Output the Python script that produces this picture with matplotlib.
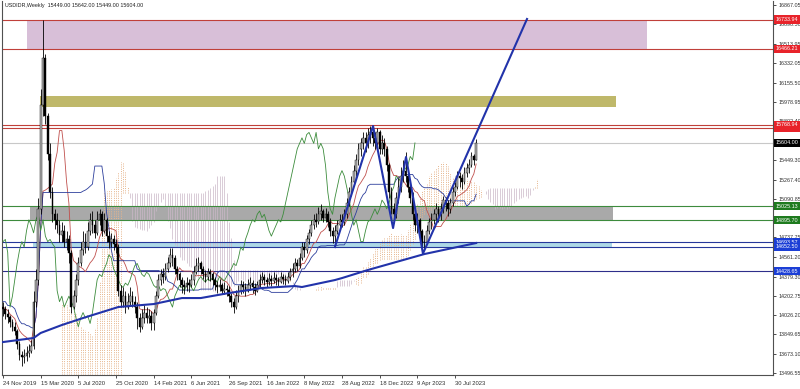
"""USDIDR weekly chart (MT4 style): candles, Ichimoku, MA, levels and zones."""
import numpy as np
import pandas as pd
import matplotlib
matplotlib.use("Agg")
import matplotlib.pyplot as plt
from matplotlib.transforms import blended_transform_factory

plt.rcParams["font.family"] = ["Liberation Sans", "DejaVu Sans"]

# ---- data -----------------------------------------------------------------
# 26 weeks before the first visible bar: only used to seed the Ichimoku buffers
pre_close = [14260, 14250, 14320, 14150, 14140, 14130, 14070, 13950, 14000, 14180,
             14250, 14250, 14240, 14200, 14080, 14050, 14100, 14200, 14150, 14160,
             14140, 14030, 14030, 14020, 14080, 14100]
pre_high = [14400, 14320, 14400, 14330, 14200, 14180, 14150, 14080, 14050, 14220,
            14330, 14300, 14290, 14260, 14210, 14100, 14140, 14230, 14230, 14200,
            14190, 14150, 14070, 14080, 14110, 14150]
pre_low = [14200, 14180, 14220, 14120, 14090, 14080, 14000, 13900, 13920, 13980,
           14150, 14190, 14180, 14150, 14050, 13980, 14030, 14080, 14120, 14100,
           14100, 14000, 13980, 13970, 14000, 14040]

# visible weekly bars, bar 0 = 24 Nov 2019
close = [14080, 14040, 14010, 13960, 13920, 13880, 13760, 13660, 13640, 13650,
         13680, 13700, 13740, 14150, 14350, 15000, 15950, 16380, 15850, 15500,
         15150, 14950, 14900, 14850, 14760, 14800, 14700, 14720, 14600, 14100,
         14200, 14350, 14500, 14620, 14700, 14650, 14800, 14900, 14850, 14780,
         14900, 14950, 14800, 14900, 14750, 14700, 14720, 14680, 14650, 14250,
         14150, 14200, 14100, 14150, 14200, 14150, 14100, 14000, 13920, 14000,
         14050, 14000, 14020, 13950, 14050, 14200, 14350, 14400, 14380, 14450,
         14500, 14580, 14550, 14450, 14400, 14350, 14300, 14280, 14320, 14300,
         14350, 14420, 14480, 14500, 14450, 14400, 14380, 14420, 14400, 14350,
         14300, 14280, 14300, 14250, 14270, 14260, 14200, 14150, 14100, 14200,
         14250, 14300, 14280, 14250, 14300, 14320, 14280, 14250, 14300, 14350,
         14380, 14350, 14330, 14360, 14340, 14370, 14350, 14330, 14380, 14360,
         14340, 14380, 14420, 14450, 14500, 14480, 14550, 14650, 14620, 14720,
         14780, 14850, 14900, 14880, 14950, 14980, 14920, 14950, 14880, 14800,
         14750, 14800, 14850, 14900, 14880, 14950, 15050, 15150, 15250, 15350,
         15450, 15550, 15600, 15650, 15600, 15680, 15700, 15650, 15600, 15700,
         15550, 15600, 15550, 15400, 15150, 15000, 14950, 15100, 15200, 15300,
         15350, 15300, 15200, 15100, 14950, 14850, 14900, 14800, 14700, 14700,
         14800, 14880, 14900, 14950, 15000, 14950, 15000, 15080, 15050, 15000,
         15050, 15150, 15200, 15300, 15280, 15250, 15330, 15370, 15400, 15480,
         15449, 15604]
high = [14150, 14110, 14080, 14030, 13990, 13960, 13900, 13790, 13700, 13720,
        13740, 13760, 13800, 14250, 14450, 15100, 16100, 16734, 16420, 15880,
        15600, 15200, 15000, 14960, 14900, 14880, 14850, 14800, 14760, 14620,
        14260, 14400, 14560, 14700, 14800, 14780, 14880, 14960, 14980, 14900,
        14980, 15000, 14980, 14960, 14920, 14800, 14780, 14760, 14720, 14680,
        14300, 14280, 14250, 14230, 14280, 14250, 14200, 14150, 14050, 14080,
        14120, 14100, 14080, 14060, 14080, 14250, 14400, 14450, 14460, 14500,
        14560, 14640, 14640, 14580, 14480, 14420, 14380, 14350, 14380, 14360,
        14400, 14480, 14550, 14560, 14520, 14480, 14440, 14460, 14450, 14420,
        14380, 14340, 14360, 14320, 14330, 14300, 14290, 14230, 14180, 14260,
        14300, 14350, 14340, 14320, 14360, 14380, 14350, 14320, 14340, 14400,
        14420, 14400, 14380, 14410, 14390, 14420, 14400, 14380, 14420, 14400,
        14390, 14420, 14460, 14500, 14550, 14540, 14600, 14700, 14700, 14760,
        14820, 14900, 14950, 14960, 15020, 15040, 15000, 15010, 14980, 14920,
        14830, 14850, 14900, 14950, 14950, 15000, 15100, 15200, 15300, 15400,
        15500, 15600, 15650, 15700, 15700, 15740, 15760, 15760, 15700, 15740,
        15720, 15680, 15650, 15580, 15420, 15200, 15050, 15150, 15280, 15380,
        15450, 15520, 15350, 15250, 15150, 15000, 14960, 14920, 14820, 14760,
        14850, 14920, 14960, 15000, 15050, 15030, 15050, 15120, 15110, 15080,
        15100, 15200, 15250, 15350, 15340, 15320, 15380, 15420, 15460, 15520,
        15500, 15642]
low = [14020, 13990, 13950, 13920, 13880, 13840, 13720, 13620, 13565, 13590,
       13610, 13640, 13680, 13720, 14100, 14300, 14950, 15850, 15780, 15450,
       15100, 14880, 14820, 14780, 14700, 14700, 14650, 14620, 14500, 14050,
       14080, 14150, 14300, 14480, 14580, 14600, 14620, 14760, 14780, 14730,
       14760, 14850, 14750, 14780, 14700, 14640, 14650, 14620, 14600, 14200,
       14100, 14100, 14050, 14080, 14120, 14100, 14050, 13900, 13872, 13900,
       13950, 13950, 13950, 13890, 13890, 14030, 14180, 14300, 14320, 14350,
       14420, 14470, 14480, 14400, 14350, 14280, 14230, 14220, 14250, 14240,
       14280, 14300, 14400, 14430, 14400, 14360, 14330, 14350, 14340, 14300,
       14260, 14230, 14250, 14220, 14220, 14200, 14150, 14100, 14050, 14080,
       14150, 14220, 14230, 14200, 14240, 14260, 14230, 14210, 14240, 14280,
       14320, 14300, 14280, 14300, 14290, 14320, 14300, 14290, 14320, 14310,
       14300, 14320, 14350, 14380, 14420, 14430, 14460, 14530, 14560, 14600,
       14680, 14750, 14820, 14830, 14860, 14900, 14880, 14880, 14830, 14750,
       14690, 14690, 14770, 14820, 14830, 14850, 14920, 15030, 15120, 15220,
       15300, 15400, 15480, 15550, 15520, 15560, 15600, 15580, 15550, 15580,
       15500, 15500, 15480, 15350, 15100, 14950, 14870, 14920, 15050, 15150,
       15250, 15250, 15150, 15050, 14900, 14800, 14780, 14700, 14650, 14627,
       14680, 14770, 14820, 14860, 14900, 14880, 14900, 14960, 14980, 14930,
       14960, 15030, 15120, 15180, 15200, 15180, 15230, 15290, 15330, 15380,
       15400, 15449]

# thick blue moving average, read at a few bars
ma_bars = [0, 13, 16, 25, 34, 49, 64, 76, 84, 96, 110, 124, 127, 141, 144, 155, 179, 201]
ma_vals = [13780, 13817, 13863, 13936, 14000, 14101, 14128, 14183, 14183, 14229,
           14275, 14293, 14284, 14348, 14366, 14440, 14586, 14687]

# hand-drawn zigzag / trend line
zz_bars = [141.0, 157.2, 165.7, 171.2, 178.4, 222.6]
zz_vals = [14650, 15759, 14824, 15475, 14590, 16739]

# horizontal levels and their price-scale labels
level_prices = [16733.94, 16466.21, 15768.94, 15741.62, 15604.00,
                15025.13, 14895.70, 14693.57, 14652.50, 14428.65]
level_colors = ["#c0403a", "#c0403a", "#c0403a", "#c0403a", "#c8c8c8",
                "#3d8b3d", "#3d8b3d", "#26379b", "#26379b", "#2e2e8a"]
label_colors = ["#e8232a", "#e8232a", "#e8232a", "#e8232a", "#000000",
                "#1e7b1e", "#1e7b1e", "#1c3fd6", "#1c3fd6", "#1c3fd6"]

# zones: bar from, bar to, price low, price high, colour
zone_x0 = [10.2, 15.7, 11.5, 12.7]
zone_x1 = [273.6, 260.4, 259.0, 258.7]
zone_lo = [16466.21, 15932.8, 14895.70, 14652.50]
zone_hi = [16733.94, 16033.6, 15025.13, 14693.57]
zone_col = ["#d8bfd8", "#bfb86a", "#a9a9a9", "#add8e6"]

price_ticks = [16867.05, 16690.50, 16513.95, 16332.05, 16155.50, 15978.95, 15802.40,
               15625.85, 15449.30, 15267.40, 15090.85, 14914.30, 14737.75, 14561.20,
               14379.30, 14202.75, 14026.20, 13849.65, 13673.10, 13496.55]
date_bars = [0, 16, 32, 48, 64, 80, 96, 112, 128, 144, 160, 176, 192]
date_labels = ["24 Nov 2019", "15 Mar 2020", "5 Jul 2020", "25 Oct 2020", "14 Feb 2021",
               "6 Jun 2021", "26 Sep 2021", "16 Jan 2022", "8 May 2022", "28 Aug 2022",
               "18 Dec 2022", "9 Apr 2023", "30 Jul 2023"]

# ---- Ichimoku (9, 26, 52) --------------------------------------------------
npre = len(pre_close)
allc = pd.Series(pre_close + close, dtype=float)
allh = pd.Series(pre_high + high, dtype=float)
alll = pd.Series(pre_low + low, dtype=float)
tenkan = (allh.rolling(9).max() + alll.rolling(9).min()) / 2
kijun = (allh.rolling(26).max() + alll.rolling(26).min()) / 2
span_a = (tenkan + kijun) / 2
span_b = (allh.rolling(52).max() + alll.rolling(52).min()) / 2
pos_all = np.arange(len(allc)) - npre          # chart bar index of every buffer row

n = len(close)
idx = np.arange(n)
opens = np.array(pre_close[-1:] + close[:-1], dtype=float)
c = np.array(close, dtype=float)
h = np.array(high, dtype=float)
l = np.array(low, dtype=float)

# ---- figure -----------------------------------------------------------------
fig = plt.figure(figsize=(8, 3.89), dpi=100)
ax = fig.add_axes([2 / 800, 14 / 389, 771 / 800, 374 / 389])
ymin, ymax = 13478.2, 16903.7
ax.set_ylim(ymin, ymax)
ax.set_xlim(-0.425, 327.1)

# zones
for x0, x1, lo, hi, col in zip(zone_x0, zone_x1, zone_lo, zone_hi, zone_col):
    ax.fill_between([x0, x1], lo, hi, color=col, lw=0, zorder=1)

# cloud, shifted 26 bars forward (MT4 histogram look)
for p, a, b in zip(pos_all + 26, span_a, span_b):
    if np.isnan(a) or p < 0:
        continue
    if np.isnan(b):
        ax.vlines(p, ymin, a, color="#e6b58c", lw=0.7, ls=(0, (1, 1.3)), zorder=1.5)
    elif a >= b:
        ax.vlines(p, b, a, color="#e6b58c", lw=0.7, ls=(0, (1, 1.3)), zorder=1.5)
    else:
        ax.vlines(p, a, b, color="#cbb8c8", lw=0.5, zorder=1.5)

# levels
for price, col in zip(level_prices, level_colors):
    ax.axhline(price, color=col, lw=0.8, zorder=2)

# moving average and ichimoku lines
ax.plot(ma_bars, ma_vals, color="#2233aa", lw=1.5, zorder=4)
vis = pos_all >= 0
ax.plot(pos_all[vis], tenkan[vis], color="#c0504d", lw=0.6, zorder=3)
ax.plot(pos_all[vis], kijun[vis], color="#2c3e9c", lw=0.6, zorder=3)
ax.plot(idx[26:] - 26, c[26:], color="#3c8c3c", lw=0.6, zorder=3)

# candles
ax.vlines(idx, l, h, color="black", lw=0.6, zorder=3.5)
bull = c >= opens
body_lo = np.minimum(opens, c)
body_h = np.abs(c - opens)
ax.bar(idx[bull], body_h[bull], bottom=body_lo[bull], width=0.75,
       color="#b4b4b4", edgecolor="black", lw=0.3, zorder=3.6)
ax.bar(idx[~bull], body_h[~bull], bottom=body_lo[~bull], width=0.75,
       color="black", edgecolor="black", lw=0.3, zorder=3.6)

# zigzag
ax.plot(zz_bars, zz_vals, color="#2233aa", lw=1.5, zorder=5)

# axes styling
ax.spines["top"].set_visible(False)
for side in ["left", "right", "bottom"]:
    ax.spines[side].set_color("#505050")
    ax.spines[side].set_linewidth(0.8)
ax.yaxis.tick_right()
ax.set_yticks(price_ticks)
ax.set_yticklabels([f"{v:.2f}" for v in price_ticks])
ax.set_xticks(date_bars)
ax.set_xticklabels(date_labels, ha="left")
ax.tick_params(axis="both", length=2.5, width=0.6, colors="#303030")
ax.tick_params(axis="x", labelsize=4.2, pad=1.5)
ax.tick_params(axis="y", labelsize=3.9, pad=1.2)

# price labels on the right scale
tr = blended_transform_factory(ax.transAxes, ax.transData)
order = [3, 0, 1, 2, 4, 5, 6, 7, 8, 9]
for k in order:
    ax.text(1.0035, level_prices[k], f"{level_prices[k]:.2f}", transform=tr,
            fontsize=3.9, color="white", va="center", ha="left", zorder=10,
            bbox=dict(boxstyle="square,pad=0.3", fc=label_colors[k], ec="none"))

fig.text(5 / 800, 1 - 6 / 389, "USDIDR,Weekly  15449.00 15642.00 15449.00 15604.00",
         fontsize=3.9, va="center", ha="left", color="#202020")

fig.savefig("out.png", dpi=100)
